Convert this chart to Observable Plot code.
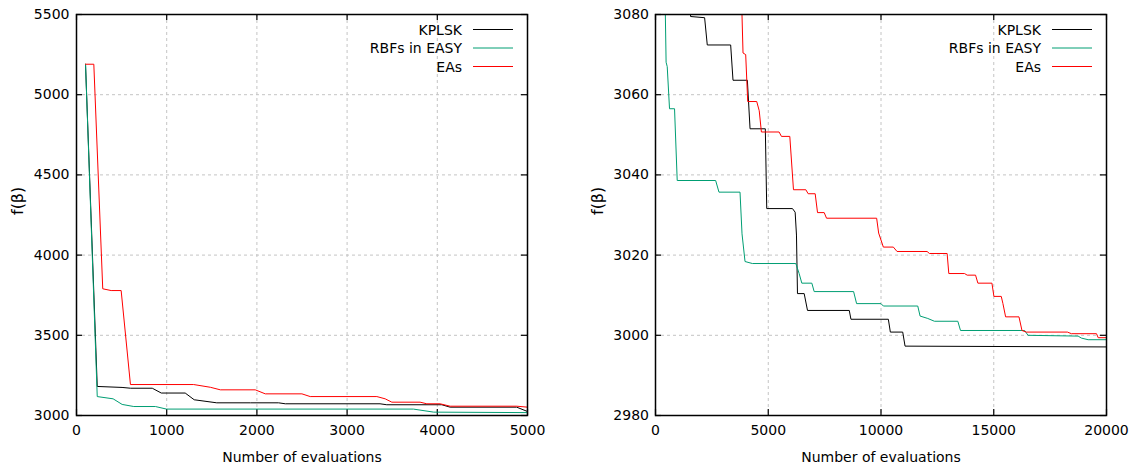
<!DOCTYPE html>
<html>
<head>
<meta charset="utf-8">
<script src="https://cdn.jsdelivr.net/npm/d3@7"></script>
<script src="https://cdn.jsdelivr.net/npm/@observablehq/plot@0.6"></script>
<style>
  html, body { margin: 0; padding: 0; background: #fff; }
  #wrap { display: flex; width: 1137px; height: 473px; }
</style>
</head>
<body>
<div id="wrap"><div id="left"></div><div id="right"></div></div>
<script>
// ---- shared labels ----
const seriesNames = ["KPLSK", "RBFs in EASY", "EAs"];
const seriesColors = ["#000000", "#009e73", "#ff0000"];
const xLabel = "Number of evaluations";
const yLabel = "f(β)";

// ---- left panel ticks ----
const xTicksLeft = [0, 1000, 2000, 3000, 4000, 5000];
const yTicksLeft = [3000, 3500, 4000, 4500, 5000, 5500];
// ---- right panel ticks ----
const xTicksRight = [0, 5000, 10000, 15000, 20000];
const yTicksRight = [2980, 3000, 3020, 3040, 3060, 3080];

// ---- left panel data (0–5000 evaluations) ----
const kplskLeftEvals  = [100, 230, 505, 600, 840, 940, 1205, 1305, 1555, 1930, 2240, 2315, 3365, 3440, 4050, 4142, 4880, 4991];
const kplskLeftValues = [5190, 3181, 3175, 3170, 3170, 3140, 3140, 3098, 3079, 3079, 3079, 3073, 3073, 3067, 3067, 3052, 3052, 3027];

const rbfLeftEvals  = [100, 230, 406, 506, 635, 875, 997, 3735, 3960, 5000];
const rbfLeftValues = [5190, 3118, 3104, 3069, 3056, 3056, 3040, 3040, 3021, 3018];

const eaLeftEvals  = [100, 192, 291, 384, 495, 598, 1299, 1484, 1595, 1982, 2093, 2499, 2591, 3330, 3422, 3496, 3809, 3884, 4031, 4142, 4880, 5000];
const eaLeftValues = [5190, 5190, 3790, 3779, 3779, 3193, 3193, 3176, 3160, 3160, 3135, 3135, 3118, 3118, 3104, 3083, 3083, 3073, 3073, 3058, 3058, 3052];

// ---- right panel data (0–20000 evaluations, zoomed) ----
const kplskRightEvals  = [1540, 1556, 2178, 2296, 3333, 3437, 4074, 4193, 4870, 4933, 6074, 6193, 6252, 6296, 6593, 6741, 8593, 8667, 10326, 10415, 10963, 11067, 20000];
const kplskRightValues = [3085, 3079.5, 3079.2, 3072.4, 3072.4, 3063.6, 3063.6, 3051.5, 3051.5, 3031.6, 3031.6, 3030.7, 3025, 3010.4, 3010.4, 3006.2, 3006.2, 3004, 3004, 3000.8, 3000.8, 2997.3, 2997.1];

const rbfRightEvals  = [395, 470, 520, 622, 844, 963, 2667, 2815, 3748, 3837, 3970, 4296, 6222, 6370, 6489, 6933, 7037, 8785, 8918, 10000, 10104, 11630, 11733, 12074, 12370, 13407, 13526, 16370, 16519, 18741, 18889, 19185, 20000];
const rbfRightValues = [3095, 3068.1, 3067, 3056.5, 3056.5, 3038.6, 3038.6, 3035.7, 3035.7, 3025.3, 3018.4, 3017.9, 3017.9, 3015.4, 3013, 3013, 3010.9, 3010.9, 3007.9, 3007.9, 3007.3, 3007.3, 3004.8, 3004.2, 3003.5, 3003.5, 3001.2, 3001.2, 3000, 2999.8, 2999.3, 2998.9, 2998.9];

const eaRightEvals  = [3740, 3881, 4000, 4089, 4489, 4600, 4696, 5481, 5585, 5956, 6119, 6667, 6770, 7081, 7185, 7481, 7585, 9807, 9896, 10104, 10548, 10711, 12044, 12148, 12933, 13007, 13704, 13822, 14193, 14296, 14919, 15007, 15333, 15407, 15526, 16119, 16252, 16444, 18267, 18444, 19556, 19630, 20000];
const eaRightValues = [3100, 3070.4, 3070, 3058.3, 3058.3, 3056, 3050.7, 3050.7, 3049.6, 3049.6, 3036.3, 3036.3, 3035.3, 3035.3, 3030.6, 3030.6, 3029.2, 3029.2, 3025.5, 3022, 3022, 3020.9, 3020.9, 3020.4, 3020.4, 3015.4, 3015.4, 3015, 3015, 3013, 3013, 3009.7, 3009.7, 3007.9, 3004.6, 3004.6, 3001.2, 3000.8, 3000.8, 3000.4, 3000.4, 2999.4, 2999.4];

function toRows(name, evals, values) {
  return evals.map((e, i) => ({series: name, x: e, y: values[i]}));
}

const leftRows = [
  ...toRows(seriesNames[0], kplskLeftEvals, kplskLeftValues),
  ...toRows(seriesNames[1], rbfLeftEvals, rbfLeftValues),
  ...toRows(seriesNames[2], eaLeftEvals, eaLeftValues)
];
const rightRows = [
  ...toRows(seriesNames[0], kplskRightEvals, kplskRightValues),
  ...toRows(seriesNames[1], rbfRightEvals, rbfRightValues),
  ...toRows(seriesNames[2], eaRightEvals, eaRightValues)
];

function panel({width, marginLeft, marginRight, yLabelOffset, yTickPadding, xDomain, yDomain, xTicks, yTicks, rows}) {
  const height = 473, marginTop = 14, marginBottom = 58;
  const plotW = width - marginLeft - marginRight;
  const plotH = height - marginTop - marginBottom;
  const inner = (t) => t.slice(1, -1);
  const gridStyle = {stroke: "#c4c4c4", strokeOpacity: 1, strokeWidth: 1, strokeDasharray: "3,3"};
  const svg = Plot.plot({
    width, height, marginLeft, marginRight, marginTop, marginBottom,
    style: {fontFamily: "'DejaVu Sans', sans-serif", fontSize: "14px", color: "#000", background: "#fff"},
    x: {domain: xDomain},
    y: {domain: yDomain},
    color: {domain: seriesNames, range: seriesColors},
    marks: [
      Plot.gridX(inner(xTicks), gridStyle),
      Plot.gridY(inner(yTicks), gridStyle),
      // inward ticks (bottom/top/left/right)
      Plot.tickX(xTicks, {x: d => d, insetTop: plotH - 6, stroke: "#000", strokeWidth: 1.2}),
      Plot.tickX(xTicks, {x: d => d, insetBottom: plotH - 6, stroke: "#000", strokeWidth: 1.2}),
      Plot.tickY(yTicks, {y: d => d, insetRight: plotW - 6, stroke: "#000", strokeWidth: 1.2}),
      Plot.tickY(yTicks, {y: d => d, insetLeft: plotW - 6, stroke: "#000", strokeWidth: 1.2}),
      Plot.axisX({ticks: xTicks, tickSize: 0, tickPadding: 10, tickFormat: d3.format("d"), label: null}),
      Plot.axisY({ticks: yTicks, tickSize: 0, tickPadding: yTickPadding, tickFormat: d3.format("d"), label: null}),
      Plot.line(rows, {x: "x", y: "y", z: "series", stroke: "series", strokeWidth: 1, clip: true}),
      Plot.frame({stroke: "#000", strokeWidth: 1.5}),
      Plot.text([xLabel], {frameAnchor: "bottom", dy: 46, text: d => d, fontSize: 14}),
      Plot.text([yLabel], {frameAnchor: "left", dx: -yLabelOffset, rotate: -90, text: d => d, fontSize: 16})
    ]
  });
  // legend, top-right inside the frame
  const g = d3.select(svg).append("g").attr("class", "legend");
  const xr = width - marginRight;
  seriesNames.forEach((name, i) => {
    const y = marginTop + 15.5 + i * 18.5;
    g.append("text").attr("x", xr - 65).attr("y", y).attr("text-anchor", "end")
      .attr("dominant-baseline", "central").attr("fill", "#000").text(name);
    g.append("line").attr("x1", xr - 54).attr("x2", xr - 14).attr("y1", y).attr("y2", y)
      .attr("stroke", seriesColors[i]).attr("stroke-width", 1);
  });
  return svg;
}

document.getElementById("left").appendChild(panel({
  width: 568, marginLeft: 76, marginRight: 41, yLabelOffset: 58.5, yTickPadding: 7,
  xDomain: [0, 5000], yDomain: [3000, 5500], xTicks: xTicksLeft, yTicks: yTicksLeft, rows: leftRows
}));
document.getElementById("right").appendChild(panel({
  width: 569, marginLeft: 87, marginRight: 31, yLabelOffset: 57.5, yTickPadding: 6.5,
  xDomain: [0, 20000], yDomain: [2980, 3080], xTicks: xTicksRight, yTicks: yTicksRight, rows: rightRows
}));
</script>
</body>
</html>
